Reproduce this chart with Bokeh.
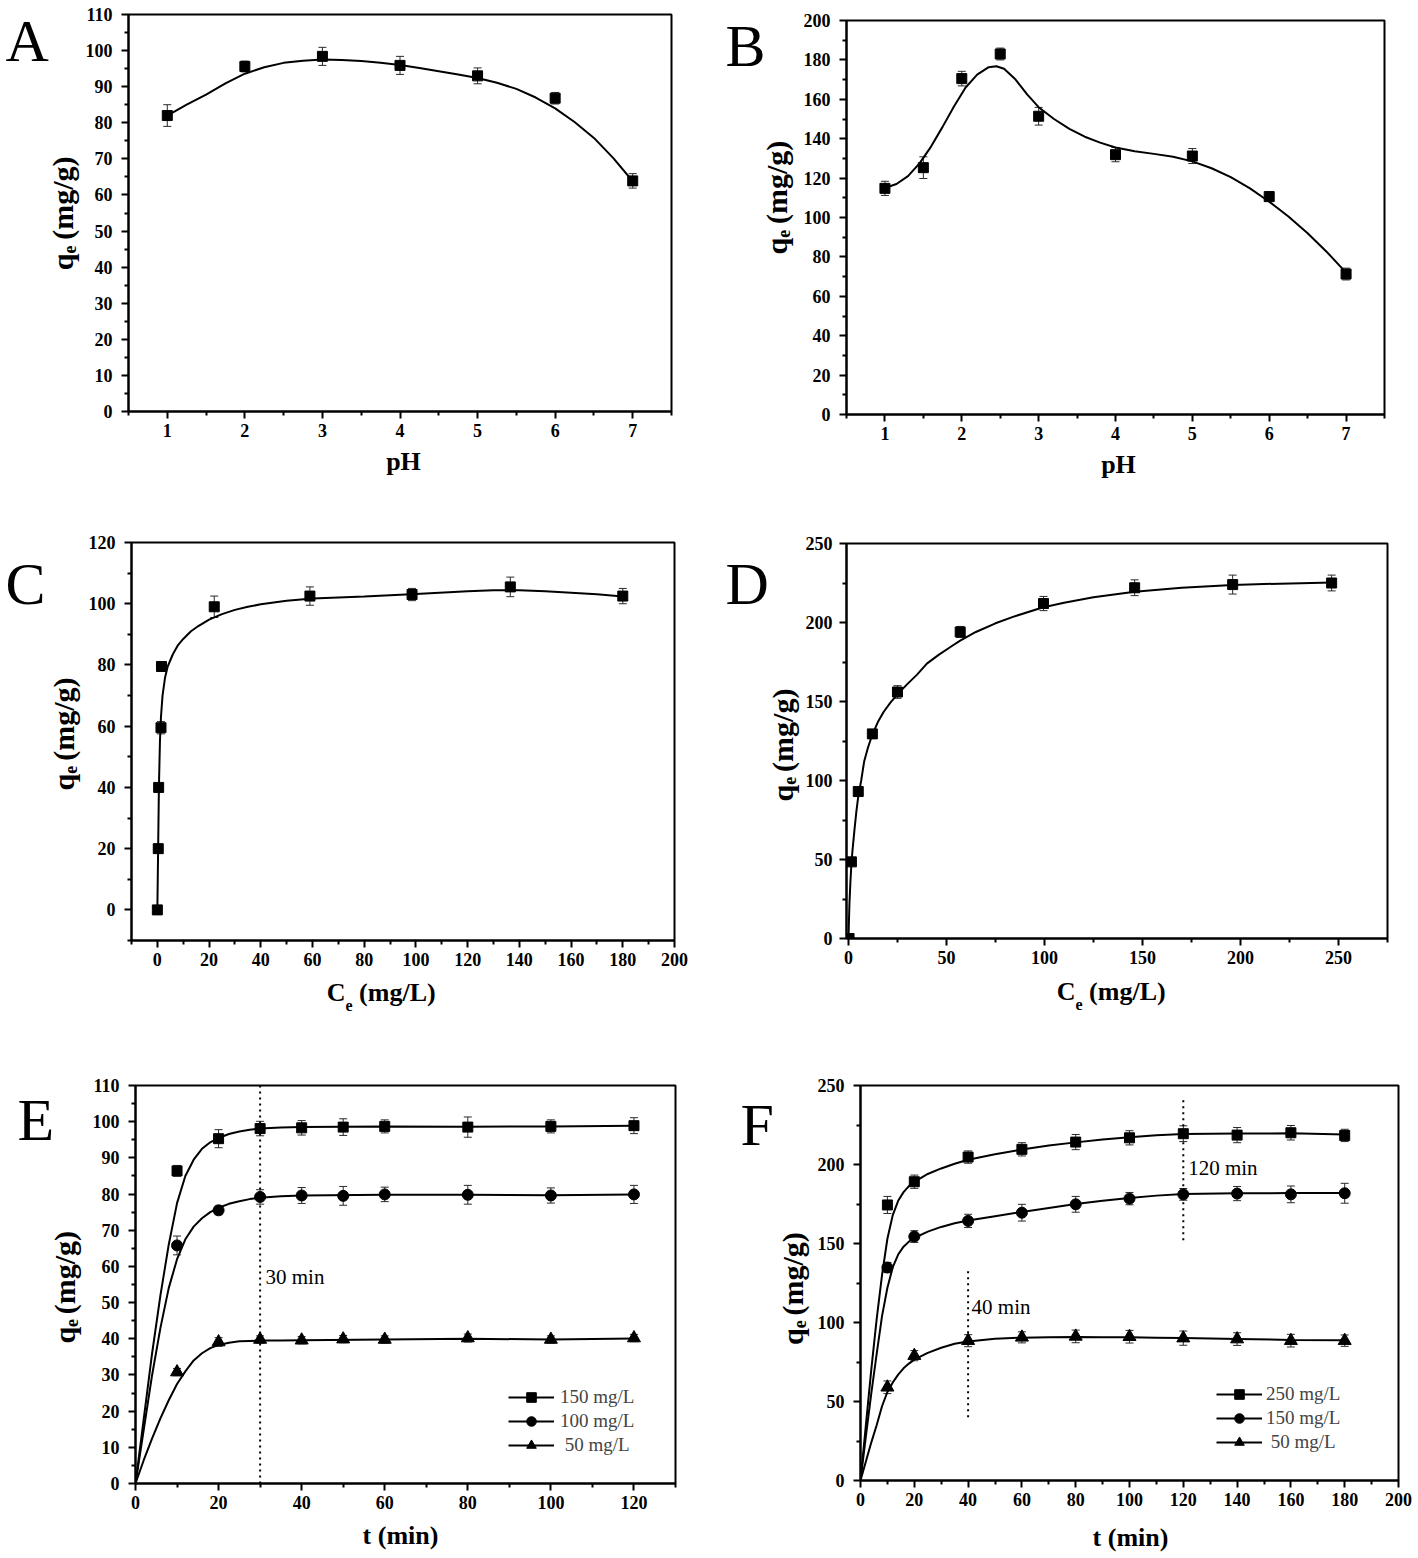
from math import pi
from bokeh.plotting import figure
from bokeh.models import (Range1d, Whisker, TeeHead, ColumnDataSource, Label, Legend,
                          LegendItem, Span, FixedTicker)
from bokeh.layouts import column, row
from bokeh.embed import file_html
from bokeh.resources import INLINE

SERIF = "Liberation Serif"

# ---------------- Panel A : effect of pH ----------------
a_x = [1, 2, 3, 4, 5, 6, 7]
a_y = [82.0, 95.6, 98.4, 95.9, 93.0, 86.8, 63.9]
a_e = [3.0, 1.5, 2.5, 2.5, 2.2, 1.6, 2.0]
a_fx = [1.0, 1.25, 1.5, 1.75, 2.0, 2.25, 2.5, 2.75, 3.0, 3.25, 3.5, 3.75, 4.0,
        4.25, 4.5, 4.75, 5.0, 5.25, 5.5, 5.75, 6.0, 6.25, 6.5, 6.75, 7.0]
a_fy = [82.0, 85.0, 87.8, 90.9, 93.6, 95.4, 96.6, 97.2, 97.5, 97.4, 97.1, 96.6, 96.0,
        95.2, 94.3, 93.4, 92.4, 91.1, 89.4, 87.0, 84.0, 80.2, 75.8, 70.2, 63.8]

# ---------------- Panel B : effect of pH ----------------
b_x = [1, 1.5, 2, 2.5, 3, 4, 5, 6, 7]
b_y = [114.8, 125.3, 170.5, 183.0, 151.4, 131.9, 131.2, 110.6, 71.3]
b_e = [3.6, 5.5, 3.7, 3.0, 4.5, 3.6, 3.8, 2.4, 3.0]
b_fx = [1.0, 1.15, 1.3, 1.45, 1.6, 1.75, 1.9, 2.05, 2.2, 2.35, 2.45, 2.55, 2.7, 2.85,
        3.0, 3.2, 3.4, 3.6, 3.8, 4.0, 4.25, 4.5, 4.75, 5.0, 5.25, 5.5, 5.75, 6.0,
        6.25, 6.5, 6.75, 7.0]
b_fy = [115.0, 117.0, 121.0, 127.5, 136.0, 146.0, 156.5, 166.0, 172.5, 176.3, 176.8,
        175.5, 170.0, 162.5, 156.0, 150.0, 145.0, 141.0, 138.0, 135.5, 133.6, 132.3,
        130.8, 128.5, 125.0, 120.5, 114.8, 108.0, 100.5, 92.0, 82.5, 72.0]

# ---------------- Panel C : isotherm ----------------
c_x = [0.0, 0.35, 0.5, 1.4, 1.6, 22.0, 59.0, 98.5, 136.5, 180.0]
c_y = [0.0, 20.0, 40.0, 59.5, 79.5, 99.0, 102.5, 103.0, 105.5, 102.5]
c_e = [0.0, 0.0, 0.0, 2.0, 0.0, 3.5, 3.0, 2.0, 3.2, 2.5]
c_fx = [0.0, 0.3, 0.6, 1.0, 1.4, 2.0, 3.0, 4.0, 6.0, 8.0, 10.0, 13.0, 16.0, 20.0, 25.0,
        30.0, 35.0, 40.0, 50.0, 60.0, 80.0, 100.0, 120.0, 130.0, 140.0, 150.0, 160.0,
        170.0, 180.0]
c_fy = [0.0, 20.0, 40.0, 55.0, 63.0, 70.0, 76.0, 79.5, 83.5, 86.5, 88.5, 91.0, 92.8,
        94.8, 96.6, 98.0, 99.0, 99.8, 101.0, 101.7, 102.4, 103.2, 104.1, 104.4, 104.4,
        104.1, 103.6, 103.1, 102.4]

# ---------------- Panel D : isotherm ----------------
d_x = [0.3, 1.5, 5.0, 12.2, 25.0, 57.0, 99.5, 146.0, 196.0, 246.5]
d_y = [0.0, 48.5, 93.0, 129.5, 156.0, 194.0, 212.0, 222.0, 224.0, 225.0]
d_e = [0.0, 0.0, 0.0, 2.5, 4.0, 3.5, 4.5, 5.0, 6.0, 5.0]
d_fx = [0.0, 0.5, 1.0, 1.5, 2.0, 3.0, 4.0, 5.0, 6.5, 8.0, 10.0, 12.0, 15.0, 18.0, 21.5,
        25.0, 30.0, 35.0, 40.0, 46.0, 52.0, 57.0, 65.0, 75.0, 85.0, 99.0, 110.0, 125.0,
        146.0, 170.0, 196.0, 220.0, 247.0]
d_fy = [0.0, 22.0, 36.0, 47.0, 55.0, 68.0, 80.0, 90.0, 100.0, 112.0, 121.0, 128.5,
        137.0, 143.5, 149.5, 154.5, 161.0, 167.0, 174.0, 179.5, 184.5, 188.5, 194.0,
        199.5, 204.0, 209.5, 212.5, 216.0, 219.5, 222.0, 223.7, 224.6, 225.3]

# ---------------- Panel E : kinetics ----------------
e_t = [10, 20, 30, 40, 50, 60, 80, 100, 120]
e_150 = [86.4, 95.3, 98.1, 98.3, 98.5, 98.7, 98.5, 98.7, 98.9]
e_150_err = [1.5, 2.5, 2.0, 2.0, 2.3, 1.8, 2.8, 1.8, 2.2]
e_100 = [65.8, 75.5, 79.2, 79.6, 79.5, 79.9, 79.8, 79.6, 79.9]
e_100_err = [2.6, 1.2, 2.0, 2.2, 2.6, 2.0, 2.6, 2.1, 2.5]
e_50 = [30.8, 39.1, 39.8, 39.6, 39.9, 39.8, 40.2, 39.8, 40.2]
e_50_err = [1.0, 1.2, 1.0, 1.0, 1.0, 1.0, 1.1, 1.0, 1.0]
e_fx = [0, 2, 4, 6, 8, 10, 12, 14, 16, 18, 20, 22.5, 25, 27.5, 30, 35, 40, 60, 80, 100, 120]
e_f150 = [0.0, 18.0, 36.0, 52.0, 66.0, 77.5, 85.0, 89.5, 92.5, 94.3, 95.5, 96.6, 97.3,
          97.8, 98.1, 98.4, 98.5, 98.7, 98.6, 98.7, 98.9]
e_f100 = [0.0, 15.0, 30.0, 43.0, 54.0, 62.0, 67.5, 71.0, 73.3, 75.0, 76.2, 77.3, 78.0,
          78.6, 79.0, 79.4, 79.6, 79.8, 79.8, 79.7, 79.9]
e_f50 = [0.0, 6.5, 12.5, 18.0, 23.0, 27.5, 31.0, 34.0, 36.0, 37.4, 38.3, 38.9, 39.3,
         39.4, 39.5, 39.55, 39.6, 39.8, 40.0, 39.8, 40.1]
e_mark_t = [30]
e_note = "30 min"
e_labels = ["150 mg/L", "100 mg/L", "\u00a050 mg/L"]

# ---------------- Panel F : kinetics ----------------
f_t = [10, 20, 40, 60, 80, 100, 120, 140, 160, 180]
f_250 = [174.4, 189.1, 204.7, 209.6, 214.2, 216.9, 219.5, 218.6, 220.1, 218.4]
f_250_err = [5.4, 4.2, 3.9, 4.2, 4.8, 4.5, 5.0, 4.8, 4.6, 3.9]
f_150 = [134.8, 154.4, 164.3, 169.5, 174.8, 178.4, 181.1, 181.6, 181.1, 181.8]
f_150_err = [3.2, 3.7, 4.2, 5.3, 5.0, 3.9, 3.7, 4.5, 5.3, 6.3]
f_50 = [59.0, 79.0, 88.5, 90.6, 91.2, 91.0, 90.1, 89.5, 88.5, 88.5]
f_50_err = [4.0, 3.2, 3.8, 3.5, 4.0, 4.0, 4.5, 4.0, 4.0, 3.6]
f_fx = [0, 2, 4, 6, 8, 10, 12, 14, 16, 18, 20, 25, 30, 35, 40, 50, 60, 70, 80, 90, 100,
        110, 120, 140, 160, 180]
f_f250 = [0.0, 35.0, 70.0, 102.0, 130.0, 153.0, 168.0, 177.0, 182.5, 186.3, 189.0, 194.0,
          197.5, 200.5, 203.0, 206.5, 209.5, 212.0, 214.0, 215.8, 217.3, 218.5, 219.3,
          219.6, 219.7, 219.0]
f_f150 = [0.0, 28.0, 55.0, 80.0, 104.0, 122.0, 135.0, 143.0, 148.0, 151.2, 153.5, 157.5,
          160.5, 162.8, 164.5, 167.3, 170.0, 172.5, 175.0, 177.0, 178.8, 180.3, 181.3,
          181.8, 181.9, 181.9]
f_f50 = [0.0, 12.0, 24.0, 35.0, 47.0, 56.0, 62.0, 67.0, 71.0, 74.0, 76.5, 80.8, 84.0,
         86.5, 88.0, 89.7, 90.4, 90.6, 90.8, 90.7, 90.6, 90.4, 90.2, 89.6, 89.0, 88.7]
f_mark_t = [40, 120]
f_mark_lo = [40, 152]
f_mark_hi = [133, 243]
f_notes = ["40 min", "120 min"]
f_note_x = [41.3, 121.8]
f_note_y = [109.5, 197.5]
f_labels = ["250 mg/L", "150 mg/L", "\u00a050 mg/L"]

PANEL_W = 709


def strip_fig(w, h):
    s = figure(width=w, height=h, x_range=Range1d(0, w), y_range=Range1d(0, h),
               output_backend="svg", toolbar_location=None, x_axis_type=None,
               y_axis_type=None, title=None, min_border=0, min_border_left=0,
               min_border_right=0, min_border_top=0, min_border_bottom=0)
    s.outline_line_color = None
    s.background_fill_color = "white"
    s.border_fill_color = "white"
    return s


class Panel:
    def __init__(self, ox, oy, h, frame, strip_w, plot_h, xr, yr, xt, xm, yt, ym,
                 ystandoff=9):
        fl, ft, fr, fb = frame
        self.ox, self.oy = ox, oy
        pw = PANEL_W - strip_w
        left = fl - (ox + strip_w)
        top = ft - oy
        right = (ox + PANEL_W) - fr
        bottom = (oy + plot_h) - fb
        p = figure(width=pw, height=plot_h, x_range=Range1d(*xr), y_range=Range1d(*yr),
                   output_backend="svg", toolbar_location=None, title=None,
                   min_border_left=left, min_border_right=right,
                   min_border_top=top, min_border_bottom=bottom)
        p.grid.visible = False
        p.outline_line_color = "black"
        p.outline_line_width = 2
        p.background_fill_color = "white"
        p.border_fill_color = "white"
        for ax, ticks, minor in ((p.xaxis[0], xt, xm), (p.yaxis[0], yt, ym)):
            ax.ticker = FixedTicker(ticks=ticks, minor_ticks=minor)
            ax.axis_line_width = 2
            ax.axis_line_color = "black"
            ax.major_tick_line_width = 2
            ax.minor_tick_line_width = 2
            ax.major_tick_line_color = "black"
            ax.minor_tick_line_color = "black"
            ax.major_tick_in = 0
            ax.major_tick_out = 7
            ax.minor_tick_in = 0
            ax.minor_tick_out = 4
            ax.major_label_text_font = SERIF
            ax.major_label_text_font_style = "bold"
            ax.major_label_text_font_size = "18px"
            ax.major_label_text_color = "black"
        p.xaxis[0].major_label_standoff = 5
        p.yaxis[0].major_label_standoff = ystandoff
        self.p = p
        self.lw, self.lh = strip_w, plot_h
        self.ls = strip_fig(strip_w, plot_h)
        self.bh = h - plot_h
        self.bs = strip_fig(PANEL_W, self.bh)

    def _lab(self, fig, sx0, sy0, sh, rx, ry, text, size, style, align, angle):
        fig.add_layout(Label(x=rx - sx0, y=sh - (ry - sy0), text=text, text_font=SERIF,
                             text_font_size=f"{size}px", text_font_style=style,
                             text_align=align, text_baseline="middle", angle=angle,
                             text_color="black"))

    def left_text(self, rx, ry, text, size, style="bold", align="left", angle=0.0):
        self._lab(self.ls, self.ox, self.oy, self.lh, rx, ry, text, size, style, align, angle)

    def bottom_text(self, rx, ry, text, size, style="bold", align="left"):
        self._lab(self.bs, self.ox, self.oy + self.lh, self.bh, rx, ry, text, size, style,
                  align, 0.0)

    def letter(self, rx, ry, t):
        # rx: left edge of glyph, ry: vertical centre of glyph
        self.left_text(rx, ry, t, 60, style="normal")

    def ytitle(self, cx, y0):
        # cx: centre line of the rotated title, y0: boundary between "q" and subscript
        self.left_text(cx, y0, "q", 30, align="right", angle=pi / 2)
        self.left_text(cx + 7, y0, "e", 18, align="left", angle=pi / 2)
        self.left_text(cx, y0 - 15.5, "(mg/g)", 30, align="left", angle=pi / 2)

    def xtitle_ce(self, x0, cy, sub_cy):
        self.bottom_text(x0, cy, "C", 26, align="right")
        self.bottom_text(x0, sub_cy, "e", 16, align="left")
        self.bottom_text(x0 + 13.6, cy, "(mg/L)", 26, align="left")

    def layout(self):
        return column(row(self.ls, self.p), self.bs)


def errbars(p, x, y, e):
    src = ColumnDataSource(dict(x=x, upper=[a + b for a, b in zip(y, e)],
                                lower=[a - b for a, b in zip(y, e)]))
    p.add_layout(Whisker(source=src, base="x", upper="upper", lower="lower",
                         line_color="#2a2a2a", line_width=1,
                         upper_head=TeeHead(size=8, line_color="#2a2a2a", line_width=1),
                         lower_head=TeeHead(size=8, line_color="#2a2a2a", line_width=1)))


def series(p, x, y, e, fx, fy, marker, size):
    errbars(p, x, y, e)
    lr = p.line(fx, fy, line_width=2, line_color="black")
    sr = p.scatter(x, y, marker=marker, size=size, fill_color="black", line_color="black")
    return lr, sr


def steps(a, b, step):
    out = []
    v = a
    while v <= b + 1e-9:
        out.append(round(v, 6))
        v += step
    return out


# ---- A
A = Panel(0, 0, 500, (128, 14, 671, 411), 82, 445, (0.5, 7.5), (0, 110),
          [1, 2, 3, 4, 5, 6, 7], steps(0.5, 7.5, 1.0),
          list(range(0, 111, 10)), list(range(5, 110, 10)))
series(A.p, a_x, a_y, a_e, a_fx, a_fy, "square", 10)
A.letter(5, 30, "A")
A.ytitle(62, 268)
A.bottom_text(403, 461, "pH", 26, align="center")

# ---- B
B = Panel(709, 0, 500, (846, 20, 1384, 414), 88, 448, (0.5, 7.5), (0, 200),
          [1, 2, 3, 4, 5, 6, 7], steps(0.5, 7.5, 1.0),
          list(range(0, 201, 20)), list(range(10, 200, 20)))
series(B.p, b_x, b_y, b_e, b_fx, b_fy, "square", 10)
B.letter(725, 29, "B")
B.ytitle(776, 247)
B.bottom_text(1118, 464, "pH", 26, align="center")

# ---- C
C = Panel(0, 500, 530, (131, 542, 674, 940), 82, 475, (-10, 200), (-10, 120),
          list(range(0, 201, 20)), list(range(-10, 200, 20)),
          list(range(0, 121, 20)), list(range(-10, 120, 20)))
series(C.p, c_x, c_y, c_e, c_fx, c_fy, "square", 10)
C.letter(5, 549, "C")
C.ytitle(63, 776)
C.xtitle_ce(345, 992, 1005)

# ---- D
D = Panel(709, 500, 530, (845, 543, 1387, 938), 93, 473, (-1, 275), (0, 250),
          list(range(0, 251, 50)), list(range(25, 276, 50)),
          list(range(0, 251, 50)), list(range(25, 250, 50)), ystandoff=7)
series(D.p, d_x, d_y, d_e, d_fx, d_fy, "square", 10)
D.letter(725, 549, "D")
D.ytitle(782, 789)
D.xtitle_ce(1075, 991, 1004)

# ---- E
E = Panel(0, 1030, 526, (135, 1085, 675, 1483), 84, 488, (0, 130), (0, 110),
          list(range(0, 121, 20)), list(range(10, 131, 20)),
          list(range(0, 111, 10)), list(range(5, 110, 10)))
rE = [series(E.p, e_t, e_150, e_150_err, e_fx, e_f150, "square", 10),
      series(E.p, e_t, e_100, e_100_err, e_fx, e_f100, "circle", 11),
      series(E.p, e_t, e_50, e_50_err, e_fx, e_f50, "triangle", 13)]
for t in e_mark_t:
    E.p.add_layout(Span(location=t, dimension="height", line_color="black",
                        line_width=2, line_dash="2 4"))
E.p.add_layout(Label(x=31.3, y=57.2, text=e_note, text_font=SERIF, text_font_size="21px",
                     text_baseline="middle", text_align="left", text_color="black"))
E.p.add_layout(Legend(items=[LegendItem(label=lab, renderers=list(rr))
                             for lab, rr in zip(e_labels, rE)],
                      location=(373, 26), orientation="vertical", background_fill_alpha=0,
                      border_line_alpha=0, label_text_font=SERIF, label_text_font_size="19px",
                      glyph_width=46, glyph_height=24, label_height=24, spacing=0, padding=0,
                      margin=0, label_standoff=6))
E.letter(17, 1072, "E")
E.ytitle(64, 1326)
E.bottom_text(400, 1535, "t (min)", 26, align="center")

# ---- F
F = Panel(709, 1030, 526, (860, 1085, 1398, 1480), 102, 485, (0, 200), (0, 250),
          list(range(0, 201, 20)), list(range(10, 200, 20)),
          list(range(0, 251, 50)), list(range(25, 250, 50)))
rF = [series(F.p, f_t, f_250, f_250_err, f_fx, f_f250, "square", 10),
      series(F.p, f_t, f_150, f_150_err, f_fx, f_f150, "circle", 11),
      series(F.p, f_t, f_50, f_50_err, f_fx, f_f50, "triangle", 13)]
F.p.segment(x0=f_mark_t, y0=f_mark_lo, x1=f_mark_t, y1=f_mark_hi, line_color="black",
            line_width=2, line_dash="2 4")
for nt, nx, ny in zip(f_notes, f_note_x, f_note_y):
    F.p.add_layout(Label(x=nx, y=ny, text=nt, text_font=SERIF, text_font_size="21px",
                         text_baseline="middle", text_align="left", text_color="black"))
F.p.add_layout(Legend(items=[LegendItem(label=lab, renderers=list(rr))
                             for lab, rr in zip(f_labels, rF)],
                      location=(356, 26), orientation="vertical", background_fill_alpha=0,
                      border_line_alpha=0, label_text_font=SERIF, label_text_font_size="19px",
                      glyph_width=46, glyph_height=24, label_height=24, spacing=0, padding=0,
                      margin=0, label_standoff=4))
F.letter(740, 1079, "F")
F.ytitle(792, 1328)
F.bottom_text(1130, 1537, "t (min)", 26, align="center")

layout = column(row(A.layout(), B.layout()), row(C.layout(), D.layout()),
                row(E.layout(), F.layout()))
open("out.html", "w").write(file_html(layout, INLINE))
